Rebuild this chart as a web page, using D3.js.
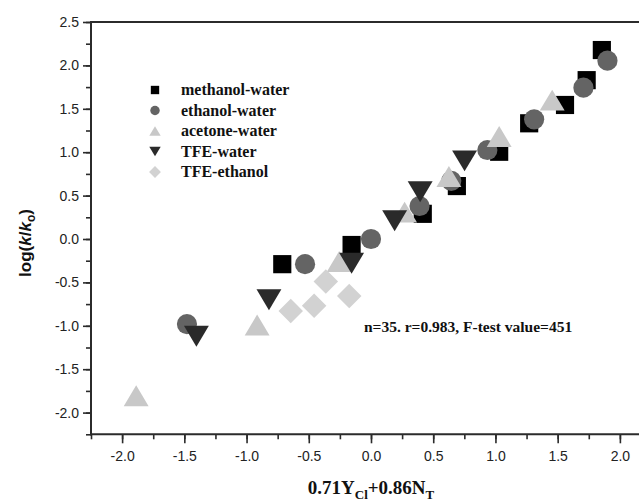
<!DOCTYPE html>
<html>
<head>
<meta charset="utf-8">
<script src="https://cdn.jsdelivr.net/npm/d3@7"></script>
<style>
  body { margin: 0; background: #fff; }
</style>
</head>
<body>
<div id="chart"></div>
<script>
var width = 639;
var height = 501;

// data
var seriesNames = ["methanol-water", "ethanol-water", "acetone-water", "TFE-water", "TFE-ethanol"];

var methanolX = [-0.713, -0.156, 0.416, 0.69, 1.03, 1.271, 1.559, 1.733, 1.855];
var methanolY = [-0.29, -0.069, 0.29, 0.61, 1.005, 1.333, 1.544, 1.83, 2.177];

var ethanolX = [-1.479, -0.53, 0.0, 0.39, 0.645, 0.935, 1.311, 1.707, 1.90];
var ethanolY = [-0.98, -0.29, 0.0, 0.38, 0.67, 1.025, 1.379, 1.743, 2.054];

var acetoneX = [-1.887, -0.915, -0.256, 0.27, 0.626, 1.03, 1.456];
var acetoneY = [-1.805, -0.99, -0.26, 0.31, 0.72, 1.18, 1.60];

var tfeWaterX = [-1.403, -0.82, -0.156, 0.19, 0.395, 0.752];
var tfeWaterY = [-1.12, -0.70, -0.28, 0.21, 0.545, 0.90];

var tfeEthanolX = [-0.645, -0.457, -0.363, -0.175];
var tfeEthanolY = [-0.83, -0.77, -0.49, -0.657];

var xMajorTicks = [-2.0, -1.5, -1.0, -0.5, 0.0, 0.5, 1.0, 1.5, 2.0];
var yMajorTicks = [-2.0, -1.5, -1.0, -0.5, 0.0, 0.5, 1.0, 1.5, 2.0, 2.5];

var statsText = "n=35. r=0.983, F-test value=451";

//Instantiate the container
var svg = d3.select("#chart")
    .append("svg")
    .attr("width", width)
    .attr("height", height)
    .style("display", "block");

svg.append("rect")
    .attr("width", width)
    .attr("height", height)
    .attr("fill", "#fff");

var plotLeft = 91, plotTop = 22, plotRight = 651, plotBottom = 434.3;

var x = d3.scaleLinear().domain([-2.25, 2.25]).range([plotLeft, plotRight]);
var y = d3.scaleLinear().domain([-2.25, 2.5]).range([plotBottom, plotTop]);

var fmt = function(d) { return d.toFixed(1); };
var axisColor = "#2b2b2b";

//minor ticks
var xMinor = d3.range(-9, 10).map(function(i) { return i * 0.25; });
var yMinor = d3.range(-9, 11).map(function(i) { return i * 0.25; });

var gxMinor = svg.append("g")
    .attr("transform", "translate(0," + plotBottom + ")")
    .call(d3.axisBottom(x).tickValues(xMinor).tickSize(5).tickFormat(""));
var gyMinor = svg.append("g")
    .attr("transform", "translate(" + plotLeft + ",0)")
    .call(d3.axisLeft(y).tickValues(yMinor).tickSize(5).tickFormat(""));

//major ticks
var gx = svg.append("g")
    .attr("transform", "translate(0," + plotBottom + ")")
    .call(d3.axisBottom(x).tickValues(xMajorTicks).tickSize(9).tickPadding(8).tickFormat(fmt));
var gy = svg.append("g")
    .attr("transform", "translate(" + plotLeft + ",0)")
    .call(d3.axisLeft(y).tickValues(yMajorTicks).tickSize(8).tickPadding(4).tickFormat(fmt));

[gxMinor, gyMinor, gx, gy].forEach(function(g) {
    g.select(".domain").remove();
    g.selectAll("line").attr("stroke", axisColor).attr("stroke-width", 1.6);
    g.selectAll("text")
        .attr("fill", "#222")
        .style("font-family", "Arial, 'Liberation Sans', sans-serif")
        .style("font-size", "14px");
});

//frame lines (left, bottom, top)
svg.append("line")
    .attr("x1", plotLeft).attr("y1", plotTop - 1)
    .attr("x2", plotLeft).attr("y2", plotBottom + 1)
    .attr("stroke", axisColor).attr("stroke-width", 2);
svg.append("line")
    .attr("x1", plotLeft - 1).attr("y1", plotBottom)
    .attr("x2", plotRight).attr("y2", plotBottom)
    .attr("stroke", axisColor).attr("stroke-width", 2);
svg.append("line")
    .attr("x1", plotLeft - 1).attr("y1", plotTop)
    .attr("x2", plotRight).attr("y2", plotTop)
    .attr("stroke", axisColor).attr("stroke-width", 2);

//symbol shapes centred on their box
var triUp = {
    draw: function(ctx, size) {
        var w = Math.sqrt(size), h = w * 0.84;
        ctx.moveTo(0, -h / 2);
        ctx.lineTo(w / 2, h / 2);
        ctx.lineTo(-w / 2, h / 2);
        ctx.closePath();
    }
};
var triDown = {
    draw: function(ctx, size) {
        var w = Math.sqrt(size), h = w * 0.84;
        ctx.moveTo(0, h / 2);
        ctx.lineTo(w / 2, -h / 2);
        ctx.lineTo(-w / 2, -h / 2);
        ctx.closePath();
    }
};
var diamond = {
    draw: function(ctx, size) {
        var r = Math.sqrt(size) / 2;
        ctx.moveTo(0, -r);
        ctx.lineTo(r, 0);
        ctx.lineTo(0, r);
        ctx.lineTo(-r, 0);
        ctx.closePath();
    }
};

var series = [
    { xs: methanolX, ys: methanolY, type: d3.symbolSquare, size: 330, legendSize: 70, color: "#000000" },
    { xs: ethanolX, ys: ethanolY, type: d3.symbolCircle, size: 320, legendSize: 70, color: "#646464" },
    { xs: acetoneX, ys: acetoneY, type: triUp, size: 620, legendSize: 130, color: "#c8c8c8" },
    { xs: tfeWaterX, ys: tfeWaterY, type: triDown, size: 620, legendSize: 130, color: "#2a2a2a" },
    { xs: tfeEthanolX, ys: tfeEthanolY, type: diamond, size: 600, legendSize: 140, color: "#d2d2d2" }
];

var plot = svg.append("g");

series.forEach(function(ser) {
    var pts = ser.xs.map(function(v, i) { return [v, ser.ys[i]]; });
    plot.selectAll(null)
        .data(pts)
        .enter()
        .append("path")
        .attr("transform", function(d) { return "translate(" + x(d[0]) + "," + y(d[1]) + ")"; })
        .attr("d", d3.symbol().type(ser.type).size(ser.size))
        .attr("fill", ser.color);
});

//Legend
var legendY = 90;
for (var j = 0; j < series.length; j++) {
    svg.append("path")
        .attr("transform", "translate(155," + (legendY + j * 20.5) + ")")
        .attr("d", d3.symbol().type(series[j].type).size(series[j].legendSize))
        .attr("fill", series[j].color);
    svg.append("text")
        .attr("x", 181)
        .attr("y", legendY + j * 20.5 + 5)
        .attr("fill", "#111")
        .style("font-family", "'Liberation Serif', 'Times New Roman', serif")
        .style("font-weight", "bold")
        .style("font-size", "16px")
        .text(seriesNames[j]);
}

//Stats annotation
svg.append("text")
    .attr("x", 364)
    .attr("y", 332)
    .attr("fill", "#111")
    .style("font-family", "'Liberation Serif', 'Times New Roman', serif")
    .style("font-weight", "bold")
    .style("font-size", "15.5px")
    .text(statsText);

//Y axis title
var yTitle = svg.append("text")
    .attr("transform", "translate(31,243) rotate(-90)")
    .attr("text-anchor", "middle")
    .attr("fill", "#111")
    .style("font-family", "Arial, 'Liberation Sans', sans-serif")
    .style("font-weight", "bold")
    .style("font-size", "17px");
yTitle.append("tspan").text("log(");
yTitle.append("tspan").style("font-style", "italic").text("k");
yTitle.append("tspan").text("/");
yTitle.append("tspan").style("font-style", "italic").text("k");
yTitle.append("tspan").attr("dy", 4).style("font-size", "12px").text("o");
yTitle.append("tspan").attr("dy", -4).text(")");

//X axis title
var xTitle = svg.append("text")
    .attr("x", 371)
    .attr("y", 494)
    .attr("text-anchor", "middle")
    .attr("fill", "#111")
    .style("font-family", "'Liberation Serif', 'Times New Roman', serif")
    .style("font-weight", "bold")
    .style("font-size", "19px");
xTitle.append("tspan").text("0.71Y");
xTitle.append("tspan").attr("dy", 5).style("font-size", "13px").text("Cl");
xTitle.append("tspan").attr("dy", -5).text("+0.86N");
xTitle.append("tspan").attr("dy", 5).style("font-size", "13px").text("T");
</script>
</body>
</html>
